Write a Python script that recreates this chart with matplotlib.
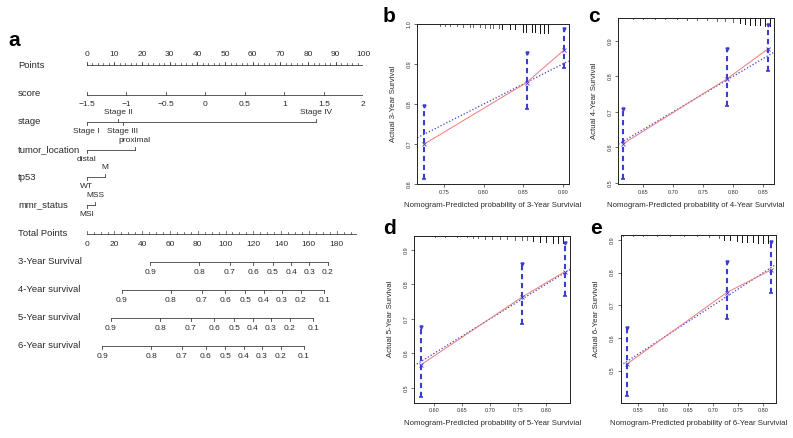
import matplotlib
matplotlib.use('Agg')
import matplotlib.pyplot as plt
from matplotlib.transforms import blended_transform_factory

plt.rcParams['font.family'] = ['Liberation Sans', 'DejaVu Sans']

W, H = 793, 438

# ---------------- nomogram data (panel a) ----------------
points_ticks = list(range(0, 101, 10))
score_ticks = [-1.5, -1, -0.5, 0, 0.5, 1, 1.5, 2]
score_min, score_max = -1.5, 2.0

stage_levels = ['Stage I', 'Stage II', 'Stage III', 'Stage IV']
stage_points = [0, 11.3, 13.0, 83.0]
location_levels = ['distal', 'proximal']
location_points = [0, 17.4]
tp53_levels = ['WT', 'M']
tp53_points = [0, 6.5]
mmr_levels = ['MSI', 'MSS']
mmr_points = [0, 3.1]

total_ticks = list(range(0, 181, 20))
total_max = 194

surv_labels = ['3-Year Survival', '4-Year survival', '5-Year survival', '6-Year survival']
surv_probs_3 = [0.9, 0.8, 0.7, 0.6, 0.5, 0.4, 0.3, 0.2]
surv_total_3 = [45.6, 80.9, 102.9, 119.8, 134.1, 147.3, 160.1, 173.7]
surv_probs_4 = [0.9, 0.8, 0.7, 0.6, 0.5, 0.4, 0.3, 0.2, 0.1]
surv_total_4 = [25.2, 60.7, 82.9, 99.9, 114.3, 127.5, 140.4, 154.2, 171.1]
surv_probs_5 = [0.9, 0.8, 0.7, 0.6, 0.5, 0.4, 0.3, 0.2, 0.1]
surv_total_5 = [17.5, 52.9, 75.1, 92.0, 106.4, 119.6, 132.6, 146.3, 163.1]
surv_probs_6 = [0.9, 0.8, 0.7, 0.6, 0.5, 0.4, 0.3, 0.2, 0.1]
surv_total_6 = [11.2, 46.5, 68.6, 85.6, 99.9, 113.1, 126.1, 139.6, 156.4]

# ---------------- calibration data (panels b-e) ----------------
years = [3, 4, 5, 6]
pred_3 = [0.7247, 0.8545, 0.9016]
obs_3 = [0.700, 0.854, 0.935]
lo_3 = [0.614, 0.789, 0.890]
hi_3 = [0.796, 0.927, 0.987]
rug_x_3 = [0.745, 0.751, 0.758, 0.766, 0.774, 0.783, 0.787, 0.795, 0.802, 0.808, 0.812,
           0.819, 0.823, 0.833, 0.840, 0.850, 0.854, 0.861, 0.865, 0.871, 0.877, 0.882]
rug_n_3 = [2, 2, 2, 2, 3, 3, 3, 3, 4, 4, 4, 4, 5, 5, 5, 8, 8, 8, 8, 9, 9, 9]

pred_4 = [0.6167, 0.789, 0.857]
obs_4 = [0.610, 0.792, 0.876]
lo_4 = [0.510, 0.717, 0.815]
hi_4 = [0.709, 0.876, 0.945]
rug_x_4 = [0.633, 0.650, 0.669, 0.686, 0.706, 0.722, 0.739, 0.756, 0.772, 0.786, 0.800,
           0.811, 0.819, 0.828, 0.836, 0.844, 0.853, 0.861]
rug_n_4 = [1, 1, 1, 1, 1, 2, 2, 2, 3, 3, 4, 5, 6, 7, 7, 7, 8, 8]

pred_5 = [0.5756, 0.7572, 0.834]
obs_5 = [0.566, 0.763, 0.837]
lo_5 = [0.472, 0.686, 0.765]
hi_5 = [0.676, 0.858, 0.920]
rug_x_5 = [0.601, 0.619, 0.640, 0.658, 0.670, 0.679, 0.691, 0.703, 0.718, 0.730, 0.745,
           0.757, 0.766, 0.777, 0.789, 0.801, 0.813, 0.822, 0.831]
rug_n_5 = [1, 1, 1, 1, 2, 2, 3, 3, 3, 3, 4, 4, 4, 5, 6, 6, 7, 7, 7]

pred_6 = [0.528, 0.727, 0.815]
obs_6 = [0.520, 0.739, 0.808]
lo_6 = [0.423, 0.659, 0.739]
hi_6 = [0.632, 0.833, 0.895]
rug_x_6 = [0.521, 0.541, 0.561, 0.588, 0.614, 0.641, 0.668, 0.691, 0.711, 0.721, 0.734,
           0.747, 0.757, 0.767, 0.780, 0.790, 0.800, 0.810]
rug_n_6 = [1, 1, 1, 1, 1, 1, 1, 2, 3, 5, 5, 6, 7, 7, 7, 8, 8, 8]

fig = plt.figure(figsize=(W / 100, H / 100), dpi=100)
fig.patch.set_facecolor('white')

# ---------------- panel a: nomogram ----------------
px0, px100 = 86.7, 363.3
ax = fig.add_axes([px0 / W, 0, (px100 - px0) / W, 1])
ax.set_xlim(0, 100)
ax.set_ylim(H, 0)
ax.axis('off')
lab_tr = blended_transform_factory(fig.transFigure, ax.transData)
LINE = '#404040'
TXT = '#2a2a2a'
FS = 6.8
TFS = 6.0
total_scale = 0.502  # points per total point


def fmt(v):
    return ('%g' % v).replace('-', '\u2212')


def row_label(y, text):
    ax.text(18 / W, y, text, transform=lab_tr, fontsize=FS, ha='left', va='center', color=TXT)


def scale(y, xs, labels, side, minor=None):
    ax.plot([min(xs), max(xs)], [y, y], color=LINE, lw=0.6)
    d = -1 if side == 'up' else 1
    for x, t in zip(xs, labels):
        ax.plot([x, x], [y, y + 3 * d], color=LINE, lw=0.6)
        ax.text(x, y + 10 * d, t, fontsize=TFS, ha='center', va='center', color=TXT)
    if minor is not None:
        for x in minor:
            ax.plot([x, x], [y, y + 1.6 * d], color=LINE, lw=0.5)


def cat_scale(y, pts, levels, sides):
    ax.plot([min(pts), max(pts)], [y, y], color=LINE, lw=0.6)
    for x, t, s in zip(pts, levels, sides):
        d = -1 if s == 'up' else 1
        ax.plot([x, x], [y, y + 3 * d], color=LINE, lw=0.6)
        ax.text(x, y + 9.5 * d, t, fontsize=TFS, ha='center', va='center', color=TXT)


ax.text(8 / W, 40, 'a', transform=lab_tr, fontsize=15, fontweight='bold', ha='left', va='center')

# Points
row_label(66, 'Points')
scale(65, points_ticks, [str(v) for v in points_ticks], 'up', minor=range(0, 101, 2))
# score
row_label(93, 'score')
score_pts = [(s - score_min) / (score_max - score_min) * 100 for s in score_ticks]
ax.plot([0, 100], [95, 95], color=LINE, lw=0.6)
for x, s in zip(score_pts, score_ticks):
    ax.plot([x, x], [95, 92], color=LINE, lw=0.6)
    ax.text(x, 104, fmt(s), fontsize=TFS, ha='center', va='center', color=TXT)
# categorical predictors
row_label(122, 'stage')
cat_scale(122, stage_points, stage_levels, ['down', 'up', 'down', 'up'])
row_label(150, 'tumor_location')
cat_scale(150, location_points, location_levels, ['down', 'up'])
row_label(177, 'tp53')
cat_scale(177, tp53_points, tp53_levels, ['down', 'up'])
row_label(205, 'mmr_status')
cat_scale(205, mmr_points, mmr_levels, ['down', 'up'])

# Total Points
row_label(234, 'Total Points')
ax.plot([0, total_max * total_scale], [234, 234], color=LINE, lw=0.6)
for v in range(0, total_max, 5):
    big = v % 20 == 0
    ax.plot([v * total_scale] * 2, [234, 234 - (2.6 if big else 1.6)], color=LINE, lw=0.5)
for v in total_ticks:
    ax.text(v * total_scale, 244, str(v), fontsize=TFS, ha='center', va='center', color=TXT)

# survival scales
surv_rows = [262, 290, 318, 346]
surv_sets = [(surv_probs_3, surv_total_3), (surv_probs_4, surv_total_4),
             (surv_probs_5, surv_total_5), (surv_probs_6, surv_total_6)]
for y, lab, (pr, tt) in zip(surv_rows, surv_labels, surv_sets):
    row_label(y, lab)
    scale(y, [t * total_scale for t in tt], ['%g' % p for p in pr], 'down')

# ---------------- panels b-e: calibration ----------------
BLUE = '#3c3cd2'
RED = '#f07a7a'
panels = [
    dict(letter='b', box=(417.3, 568.7, 24, 184.3), xlim=(0.7163, 0.9076), ylim=(0.604, 1.0),
         xt=[0.75, 0.80, 0.85, 0.90], yt=[0.6, 0.7, 0.8, 0.9, 1.0], lx=389, ly=17,
         pred=pred_3, obs=obs_3, lo=lo_3, hi=hi_3, rx=rug_x_3, rn=rug_n_3),
    dict(letter='c', box=(618.3, 774.0, 18, 184.3), xlim=(0.6083, 0.8678), ylim=(0.4955, 0.964),
         xt=[0.65, 0.70, 0.75, 0.80, 0.85], yt=[0.5, 0.6, 0.7, 0.8, 0.9], lx=594, ly=17,
         pred=pred_4, obs=obs_4, lo=lo_4, hi=hi_4, rx=rug_x_4, rn=rug_n_4),
    dict(letter='d', box=(414.0, 570.3, 235.7, 402.7), xlim=(0.5636, 0.844), ylim=(0.4564, 0.9416),
         xt=[0.60, 0.65, 0.70, 0.75, 0.80], yt=[0.5, 0.6, 0.7, 0.8, 0.9], lx=389, ly=228,
         pred=pred_5, obs=obs_5, lo=lo_5, hi=hi_5, rx=rug_x_5, rn=rug_n_5),
    dict(letter='e', box=(620.7, 776.0, 235, 402.7), xlim=(0.516, 0.825), ylim=(0.402, 0.915),
         xt=[0.55, 0.60, 0.65, 0.70, 0.75, 0.80], yt=[0.5, 0.6, 0.7, 0.8, 0.9], lx=596, ly=228,
         pred=pred_6, obs=obs_6, lo=lo_6, hi=hi_6, rx=rug_x_6, rn=rug_n_6),
]

for yr, p in zip(years, panels):
    l, r, t, b = p['box']
    cax = fig.add_axes([l / W, 1 - b / H, (r - l) / W, (b - t) / H])
    cax.set_xlim(*p['xlim'])
    cax.set_ylim(*p['ylim'])
    for s in cax.spines.values():
        s.set_linewidth(0.7)
        s.set_color('#222')
    cax.set_xticks(p['xt'])
    cax.set_xticklabels(['%.2f' % v for v in p['xt']])
    cax.set_yticks(p['yt'])
    cax.set_yticklabels(['%.1f' % v for v in p['yt']], rotation=90, va='center')
    cax.tick_params(labelsize=4.0, length=2, width=0.5, pad=2, colors='#333')

    # rug of predictions along top edge
    hpx = b - t
    tr = cax.get_xaxis_transform()
    for x, n in zip(p['rx'], p['rn']):
        cax.plot([x, x], [1, 1 - n * 1.0 / hpx], transform=tr, color='#666' if n < 5 else '#111',
                 lw=0.7, clip_on=False)

    cax.axline((0, 0), slope=1, color=BLUE, lw=0.9, ls=(0, (1, 1.6)))
    cax.plot(p['pred'], p['obs'], color=RED, lw=0.7)
    cax.vlines(p['pred'], p['lo'], p['hi'], colors=BLUE, lw=1.5, linestyles=(0, (2.5, 1.8)))
    cax.plot(p['pred'], p['hi'], ls='none', marker='v', ms=2.2, color=BLUE)
    cax.plot(p['pred'], p['lo'], ls='none', marker='_', ms=3, mew=1.2, color=BLUE)
    cax.plot(p['pred'], p['obs'], ls='none', marker='x', ms=2.2, mew=0.6, color=BLUE)

    cax.set_xlabel('Nomogram-Predicted probability of %d-Year Survivial' % yr,
                   fontsize=5.6, color=TXT, labelpad=5)
    cax.set_ylabel('Actual %d-Year Survival' % yr, fontsize=5.6, color=TXT, labelpad=7)
    fig.text(p['lx'] / W, 1 - p['ly'] / H, p['letter'], fontsize=15, fontweight='bold',
             ha='center', va='center')

fig.savefig('out.png', dpi=100)
